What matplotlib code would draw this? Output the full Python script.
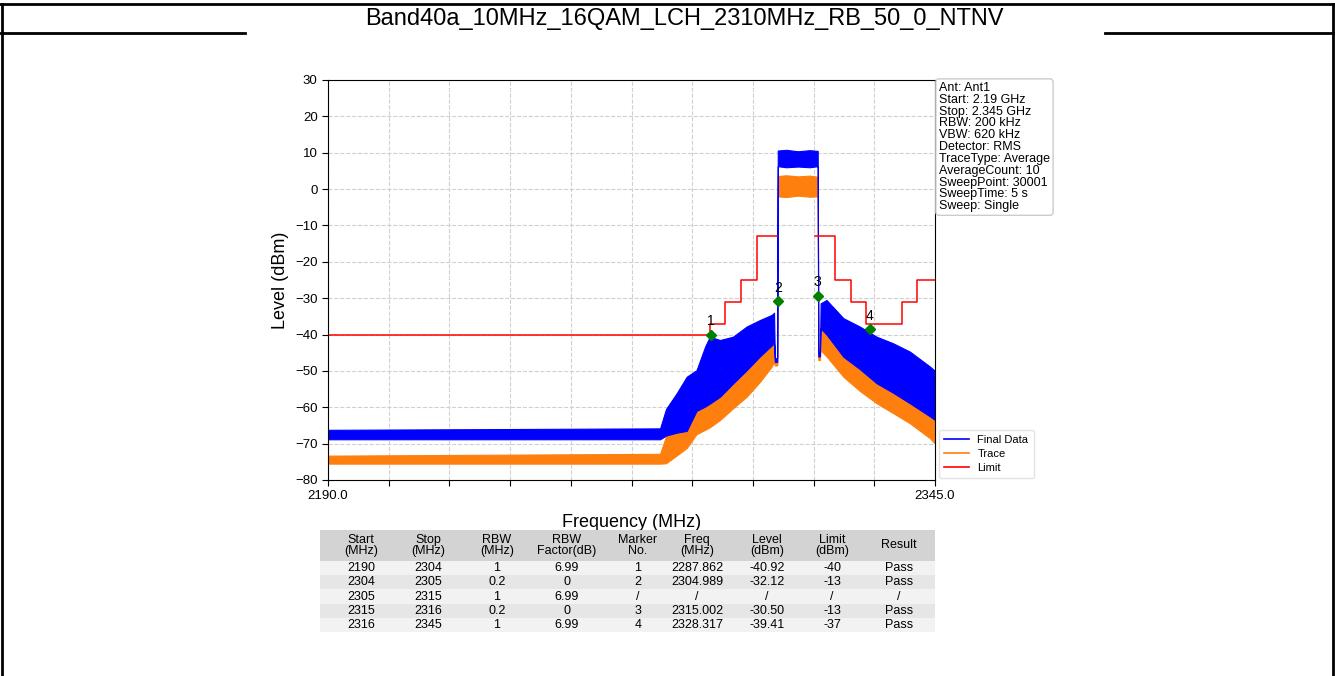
import matplotlib.pyplot as plt
from matplotlib.lines import Line2D

plt.rcParams['font.family'] = ['Liberation Sans', 'DejaVu Sans']

W, H = 1335, 676

title = 'Band40a_10MHz_16QAM_LCH_2310MHz_RB_50_0_NTNV'

# spectrum envelopes (MHz, dBm)
freq = [2190.0, 2274.8, 2276.3, 2279.0, 2281.6, 2284.1, 2286.3, 2287.5, 2290.1,
        2293.4, 2296.9, 2300.3, 2303.3, 2303.9, 2304.1, 2304.7, 2304.85, 2307.0,
        2310.0, 2313.0, 2315.05, 2315.2, 2315.6, 2315.8, 2317.3, 2321.6, 2325.8,
        2330.1, 2334.3, 2338.6, 2343.7, 2345.0]
blue_top = [-66.2, -65.8, -60.5, -56.2, -51.6, -49.8, -43.3, -40.6, -41.5,
            -40.6, -37.8, -36.0, -34.6, -34.0, -46.5, -46.5, 10.6, 10.8,
            10.4, 10.7, 10.5, -45.0, -45.0, -31.4, -30.5, -35.5, -37.8,
            -40.6, -42.4, -44.7, -48.8, -50.0]
blue_bot = [-68.8, -68.8, -67.8, -67.0, -66.5, -61.0, -59.8, -59.0, -57.1,
            -53.5, -49.8, -46.0, -43.0, -42.4, -47.5, -47.5, 6.3, 6.0,
            6.2, 6.0, 6.3, -46.0, -46.0, -38.3, -40.0, -46.1, -49.5,
            -53.4, -56.0, -58.9, -62.5, -63.5]
orange_top = [-73.3, -72.8, -68.0, -67.0, -66.5, -61.0, -59.8, -59.0, -57.1,
              -53.5, -49.8, -46.0, -43.0, -42.4, -47.5, -48.0, 3.6, 3.8,
              3.5, 3.7, 3.4, -46.0, -46.0, -38.3, -40.0, -46.1, -49.5,
              -53.4, -56.0, -58.9, -62.5, -63.5]
orange_bot = [-75.5, -75.5, -75.4, -73.3, -71.2, -67.4, -66.2, -65.5, -63.5,
              -60.3, -57.1, -53.0, -48.8, -47.5, -48.5, -48.5, -2.0, -2.2,
              -1.8, -2.1, -2.0, -47.0, -47.0, -44.3, -46.0, -51.6, -55.5,
              -58.9, -61.6, -64.4, -68.5, -70.0]

# limit mask
lim_left_f = [2190, 2287.5, 2291.5, 2295.5, 2299.5, 2304.6]
lim_left_v = [-40, -37, -31, -25, -13, -13]
lim_right_f = [2314.4, 2319.5, 2323.5, 2327.5, 2336.5, 2340.5, 2345]
lim_right_v = [-13, -25, -31, -37, -31, -25, -25]

# markers
marker_no = ['1', '2', '3', '4']
marker_f = [2287.862, 2304.989, 2315.002, 2328.317]
marker_lvl = [-40.1, -30.8, -29.4, -38.5]

info_lines = ['Ant: Ant1', 'Start: 2.19 GHz', 'Stop: 2.345 GHz', 'RBW: 200 kHz',
              'VBW: 620 kHz', 'Detector: RMS', 'TraceType: Average',
              'AverageCount: 10', 'SweepPoint: 30001', 'SweepTime: 5 s',
              'Sweep: Single']

# result table
col_labels = ['Start\n(MHz)', 'Stop\n(MHz)', 'RBW\n(MHz)', 'RBW\nFactor(dB)', 'Marker\nNo.',
              'Freq\n(MHz)', 'Level\n(dBm)', 'Limit\n(dBm)', 'Result']
rows = [
    ['2190', '2304', '1', '6.99', '1', '2287.862', '-40.92', '-40', 'Pass'],
    ['2304', '2305', '0.2', '0', '2', '2304.989', '-32.12', '-13', 'Pass'],
    ['2305', '2315', '1', '6.99', '/', '/', '/', '/', '/'],
    ['2315', '2316', '0.2', '0', '3', '2315.002', '-30.50', '-13', 'Pass'],
    ['2316', '2345', '1', '6.99', '4', '2328.317', '-39.41', '-37', 'Pass'],
]
col_x = [41, 108, 177, 247, 318, 377, 447, 512, 579]


def box(x0, y0, x1, y1):
    # pixel box (top-left origin) -> figure fraction rect
    return [x0 / W, 1 - y1 / H, (x1 - x0) / W, (y1 - y0) / H]


fig = plt.figure(figsize=(W / 100, H / 100), dpi=100)

# document frame
frame = fig.add_axes([0, 0, 1, 1])
frame.set_xlim(0, W)
frame.set_ylim(H, 0)
frame.axis('off')
frame.plot([0, W], [4, 4], color='black', lw=2)
frame.plot([0, 245], [33, 33], color='black', lw=2)
frame.plot([1105, W], [33, 33], color='black', lw=2)
frame.plot([2, 2], [4, H], color='black', lw=2)
frame.plot([1333, 1333], [4, H], color='black', lw=2)
frame.text(684, 19.5, title, ha='center', va='center', fontsize=17)

# spectrum plot
ax = fig.add_axes(box(328, 80, 935, 480))
ax.fill_between(freq, orange_bot, orange_top, color='#ff7f0e', lw=0.8)
ax.fill_between(freq, blue_bot, blue_top, color='#0000ff', lw=0.8)
ax.step(lim_left_f, lim_left_v, where='post', color='red', lw=1.1)
ax.step(lim_right_f, lim_right_v, where='post', color='red', lw=1.1)
ax.plot(marker_f, marker_lvl, 'D', color='green', markersize=5, ls='none')
for n, f, v in zip(marker_no, marker_f, marker_lvl):
    ax.text(f, v + 1.8, n, ha='center', va='bottom', fontsize=10)

ax.set_xlim(2190, 2345)
ax.set_ylim(-80, 30)
xt = [2190 + 15.5 * i for i in range(11)]
ax.set_xticks(xt)
ax.set_xticklabels(['2190.0'] + [''] * 9 + ['2345.0'])
ax.set_yticks(range(-80, 31, 10))
ax.tick_params(labelsize=9.5, length=4)
ax.grid(True, ls='--', color='#d0d0d0', lw=0.8)
ax.set_axisbelow(True)
ax.set_xlabel('Frequency (MHz)', fontsize=13, labelpad=8)
ax.set_ylabel('Level (dBm)', fontsize=13)

handles = [Line2D([], [], color='#0000ff', lw=1.2),
           Line2D([], [], color='#ff7f0e', lw=1.2),
           Line2D([], [], color='red', lw=1.2)]
fig.legend(handles, ['Final Data', 'Trace', 'Limit'], loc='lower left',
           bbox_to_anchor=(933 / W, 1 - 484 / H), fontsize=8, frameon=True,
           edgecolor='#dddddd', fancybox=True, handlelength=2.2, borderpad=0.5,
           labelspacing=0.35)

fig.text(939 / W, 1 - 82 / H, '\n'.join(info_lines), ha='left', va='top',
         fontsize=9, linespacing=0.98,
         bbox=dict(boxstyle='round,pad=0.25', fc='white', ec='#cccccc'))

# table under the plot
tab = fig.add_axes(box(320, 530, 935, 632))
tab.set_xlim(0, 615)
tab.set_ylim(102, 0)
tab.axis('off')
tab.axhspan(0, 31, color='#d3d3d3', lw=0)
row_colors = ['#f2f2f2', '#e6e6e6']
for i, r in enumerate(rows):
    y0 = 31 + i * 14.2
    tab.axhspan(y0, y0 + 14.2, color=row_colors[i % 2], lw=0)
    for cx, s in zip(col_x, r):
        tab.text(cx, y0 + 7.1, s, ha='center', va='center', fontsize=9)
for cx, s in zip(col_x, col_labels):
    tab.text(cx, 15.5, s, ha='center', va='center', fontsize=9, linespacing=0.95)

plt.savefig('out.png', dpi=100)
